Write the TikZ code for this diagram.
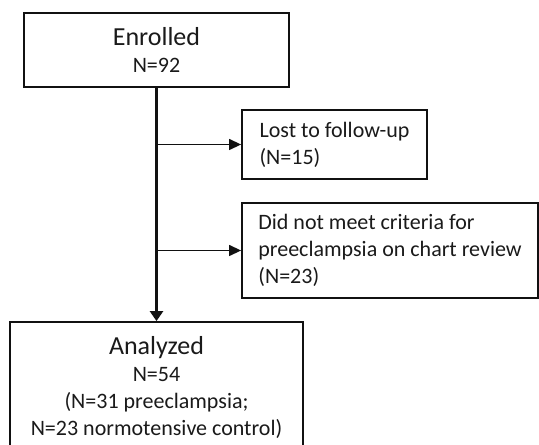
\documentclass[tikz,border=0pt]{standalone}
\usepackage{fontspec}
\setmainfont{Carlito}
\usetikzlibrary{arrows.meta}

\begin{document}
\begin{tikzpicture}[x=1pt,y=1pt]
\definecolor{flowLine}{HTML}{111111}
\definecolor{flowText}{HTML}{1A1A1A}
\def\bigfont{\fontsize{26}{29}\selectfont}
\def\smallfont{\fontsize{22}{27}\selectfont}
\tikzset{
	flowbox/.style={draw=flowLine,line width=1.8pt,fill=white,text=flowText,inner sep=0pt,align=center,font=\smallfont},
	sidebox/.style={flowbox,align=left},
	mainflow/.style={draw=flowLine,line width=3.4pt,-{Triangle[length=10pt,width=13pt]}},
	exitflow/.style={draw=flowLine,line width=1.3pt,-{Triangle[length=12pt,width=11pt]}}
}

\useasboundingbox (0,0) rectangle (539,445);
\clip (0,0) rectangle (539,445);

\node[flowbox,minimum width=265,minimum height=74] (enrolled) at (156.5,395)
	{{\bigfont Enrolled}\\N=92};
\node[sidebox,minimum width=185,minimum height=69] (lost) at (334.5,300.5)
	{Lost to follow-up\\(N=15)};
\node[sidebox,minimum width=296,minimum height=95] (criteria) at (390,194.5)
	{Did not meet criteria for\\preeclampsia on chart review\\(N=23)};
\node[flowbox,minimum width=293,minimum height=130] (analyzed) at (156.5,58)
	{{\bigfont Analyzed}\\N=54\\(N=31 preeclampsia;\\N=23 normotensive control)};

\coordinate (lostjoin) at (enrolled.south |- lost.west);
\coordinate (criteriajoin) at (enrolled.south |- criteria.west);

\draw[mainflow] (enrolled.south) -- (analyzed.north);
\draw[exitflow] (lostjoin) -- (lost.west);
\draw[exitflow] (criteriajoin) -- (criteria.west);
\end{tikzpicture}
\end{document}
